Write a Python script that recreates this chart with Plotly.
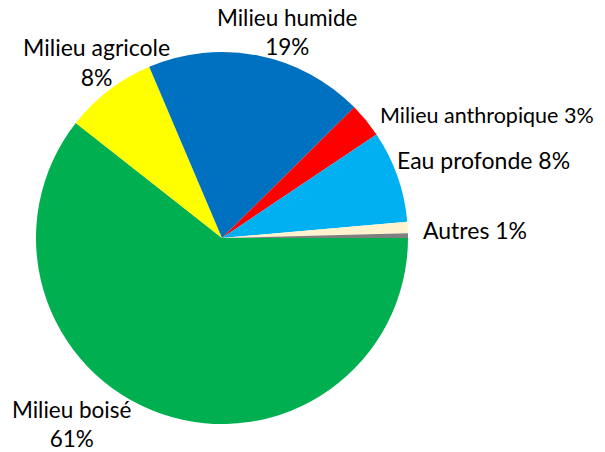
import plotly.graph_objects as go

categories = ["Milieu boisé", "Milieu agricole", "Milieu humide", "Milieu anthropique",
              "Eau profonde", "Autres", "Non classé"]
values = [60.6, 8, 19, 3, 8, 1, 0.4]
colors = ["#00B050", "#FFFF00", "#0070C0", "#FF0000", "#00B0F0", "#FFF2CC", "#7F7F7F"]
pct_labels = ["61%", "8%", "19%", "3%", "8%", "1%", ""]

W, H = 605, 452
cx, cy, r = 222, 238, 186

fig = go.Figure(go.Pie(
    labels=categories, values=values, sort=False, direction="clockwise", rotation=90,
    marker=dict(colors=colors, line=dict(width=0)),
    textinfo="none", hoverinfo="label+percent", showlegend=False,
    domain=dict(x=[(cx - r) / W, (cx + r) / W], y=[1 - (cy + r) / H, 1 - (cy - r) / H]),
))

# label placements (pixel centres in reference): (index, x, y, anchor, two-line?, size)
placements = [
    (0, 72, 424, "center", True, 22.5),
    (1, 97, 62, "center", True, 23),
    (2, 287, 32, "center", True, 22.5),
    (3, 379, 115, "left", False, 21.5),
    (4, 396, 160, "left", False, 23),
    (5, 422, 230, "left", False, 23),
]
for i, px, py, anchor, two, sz in placements:
    txt = f"{categories[i]}<br>{pct_labels[i]}" if two else f"{categories[i]} {pct_labels[i]}"
    fig.add_annotation(x=px / W, y=1 - py / H, xref="paper", yref="paper",
                       text=txt, showarrow=False, xanchor=anchor, yanchor="middle",
                       align="center", borderpad=0,
                       font=dict(family="Lato", size=sz, color="#000000"))

fig.update_layout(width=W, height=H, margin=dict(l=0, r=0, t=0, b=0),
                  paper_bgcolor="white", plot_bgcolor="white")
fig.write_html("out.html", config={"displayModeBar": False},
               post_script="document.body.style.margin='0';document.body.style.overflow='hidden';")
